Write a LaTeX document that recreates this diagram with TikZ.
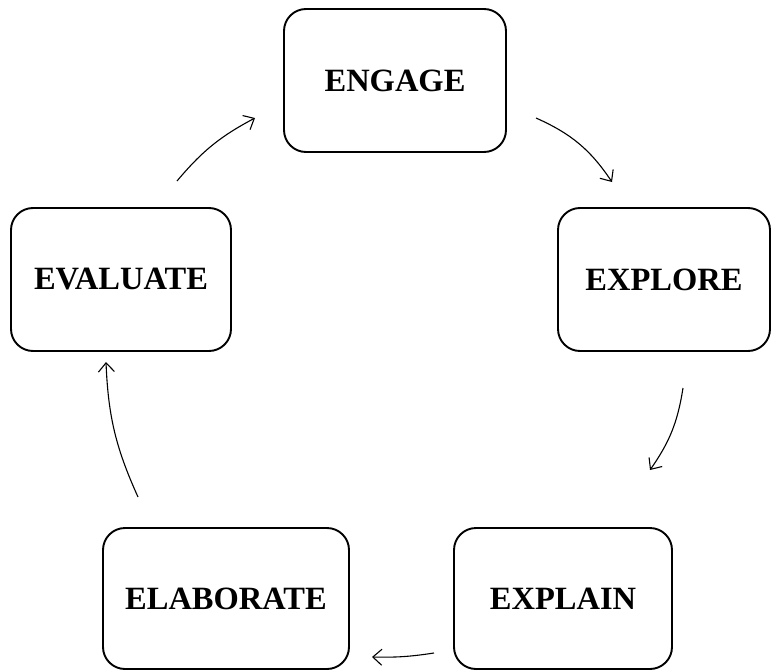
\documentclass[tikz,border=0pt]{standalone}
\usepackage{fontspec}
\setmainfont{Liberation Serif}
\usetikzlibrary{arrows.meta}
\begin{document}
\begin{tikzpicture}[x=1pt,y=-1pt,
  stage/.style={draw=black, line width=1.9pt, rounded corners=22pt, fill=white,
    inner sep=0pt, align=center, font=\fontsize{32.5}{38}\selectfont\bfseries},
  cyc/.style={line width=1.1pt, -{Straight Barb[length=9pt,width=16pt,line width=1.1pt]}}]
\useasboundingbox (0,0) rectangle (772,672);
\node[stage, minimum width=222pt, minimum height=143pt] (engage) at (395,80.5) {ENGAGE};
\node[stage, minimum width=212pt, minimum height=143pt] (explore) at (664,279.5) {EXPLORE};
\node[stage, minimum width=218pt, minimum height=141pt] (explain) at (563,598.5) {EXPLAIN};
\node[stage, minimum width=246pt, minimum height=141pt] (elaborate) at (226,598.5) {ELABORATE};
\node[stage, minimum width=220pt, minimum height=143pt] (evaluate) at (121,279.5) {EVALUATE};
\coordinate (a1s) at (536,118);
\coordinate (a1e) at (612,182);
\coordinate (a2s) at (683,388);
\coordinate (a2e) at (650,470);
\coordinate (a3s) at (434,653);
\coordinate (a3e) at (372,657);
\coordinate (a4s) at (138,497);
\coordinate (a4e) at (106,362);
\coordinate (a5s) at (177,181);
\coordinate (a5e) at (255,118);
\draw[cyc] (a1s) to[bend left=16] (a1e);
\draw[cyc] (a2s) to[bend left=13] (a2e);
\draw[cyc] (a3s) to[bend left=5] (a3e);
\draw[cyc] (a4s) to[bend left=11] (a4e);
\draw[cyc] (a5s) to[bend left=11] (a5e);
\end{tikzpicture}
\end{document}
